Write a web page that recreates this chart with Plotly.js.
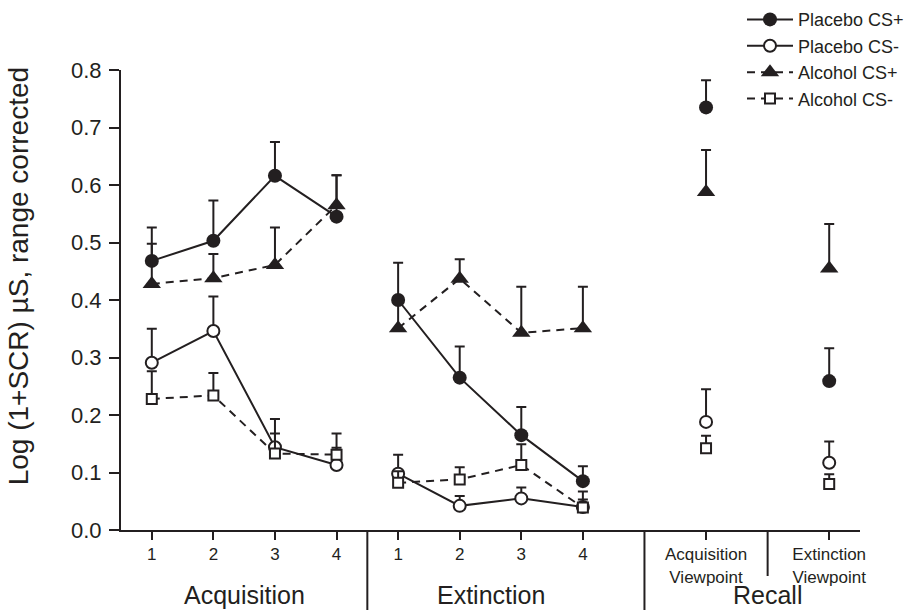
<!DOCTYPE html>
<html>
<head>
<meta charset="utf-8">
<script src="https://cdn.plot.ly/plotly-3.0.1.min.js"></script>
<style>html,body{margin:0;padding:0;background:#fff;}#chart{width:909px;height:610px;}</style>
</head>
<body>
<div id="chart"></div>
<script>
// Category positions on the x axis
const acqX = [1, 2, 3, 4];
const extX = [5, 6, 7, 8];
const recallX = [10, 12];
const tickVals = [1, 2, 3, 4, 5, 6, 7, 8, 10, 12];
const tickText = ['1', '2', '3', '4', '1', '2', '3', '4', 'Acquisition<br>Viewpoint', 'Extinction<br>Viewpoint'];
const sectionNames = ['Acquisition', 'Extinction', 'Recall'];
const sectionCenters = [2.5, 6.5, 11];
const sectionDividers = [4.5, 9];
const recallDivider = 11;

// Series values (means) and upper error (SEM)
const placeboPlusAcq = [0.468, 0.503, 0.616, 0.545];
const placeboPlusExt = [0.400, 0.265, 0.165, 0.085];
const placeboPlusRec = [0.735, 0.259];
const placeboPlusAcqErr = [0.058, 0.070, 0.059, 0.072];
const placeboPlusExtErr = [0.065, 0.054, 0.049, 0.026];
const placeboPlusRecErr = [0.047, 0.057];

const placeboMinusAcq = [0.291, 0.346, 0.144, 0.113];
const placeboMinusExt = [0.098, 0.042, 0.055, 0.040];
const placeboMinusRec = [0.188, 0.117];
const placeboMinusAcqErr = [0.059, 0.060, 0.049, 0.030];
const placeboMinusExtErr = [0.033, 0.017, 0.019, 0.013];
const placeboMinusRecErr = [0.057, 0.037];

const alcoholPlusAcq = [0.428, 0.438, 0.461, 0.565];
const alcoholPlusExt = [0.351, 0.437, 0.343, 0.351];
const alcoholPlusRec = [0.588, 0.455];
const alcoholPlusAcqErr = [0.070, 0.042, 0.065, 0.052];
const alcoholPlusExtErr = [0.050, 0.034, 0.080, 0.072];
const alcoholPlusRecErr = [0.073, 0.077];

const alcoholMinusAcq = [0.228, 0.234, 0.133, 0.131];
const alcoholMinusExt = [0.082, 0.088, 0.113, 0.039];
const alcoholMinusRec = [0.142, 0.080];
const alcoholMinusAcqErr = [0.048, 0.039, 0.035, 0.037];
const alcoholMinusExtErr = [0.020, 0.021, 0.036, 0.028];
const alcoholMinusRecErr = [0.022, 0.017];

const INK = '#231f20';
const FONT = 'Liberation Sans, Arial, Helvetica, sans-serif';

function joinParts(a, e, r) {
  return [...a, null, ...e, null, r[0], null, r[1]];
}
const allX = joinParts(acqX, extX, recallX);

function series(name, acq, ext, rec, acqE, extE, recE, marker, dash) {
  const err = joinParts(acqE, extE, recE).map(v => v === null ? 0 : v);
  return {
    type: 'scatter',
    mode: 'lines+markers',
    name: name,
    x: allX,
    y: joinParts(acq, ext, rec),
    connectgaps: false,
    line: {color: INK, width: 2, dash: dash},
    marker: marker,
    error_y: {
      type: 'data', symmetric: false,
      array: err, arrayminus: err.map(() => 0),
      color: INK, thickness: 2, width: 5
    },
    cliponaxis: false
  };
}

const traces = [
  series('Placebo CS+', placeboPlusAcq, placeboPlusExt, placeboPlusRec,
         placeboPlusAcqErr, placeboPlusExtErr, placeboPlusRecErr,
         {symbol: 'circle', size: 14, color: INK, line: {color: INK, width: 0}}, 'solid'),
  series('Placebo CS-', placeboMinusAcq, placeboMinusExt, placeboMinusRec,
         placeboMinusAcqErr, placeboMinusExtErr, placeboMinusRecErr,
         {symbol: 'circle', size: 12, color: '#ffffff', line: {color: INK, width: 2}}, 'solid'),
  series('Alcohol CS+', alcoholPlusAcq, alcoholPlusExt, alcoholPlusRec,
         alcoholPlusAcqErr, alcoholPlusExtErr, alcoholPlusRecErr,
         {symbol: 'triangle-up', size: 16, color: INK, line: {color: INK, width: 0}}, '8px,6px'),
  series('Alcohol CS-', alcoholMinusAcq, alcoholMinusExt, alcoholMinusRec,
         alcoholMinusAcqErr, alcoholMinusExtErr, alcoholMinusRecErr,
         {symbol: 'square', size: 10, color: '#ffffff', line: {color: INK, width: 2}}, '8px,6px')
];

const shapes = sectionDividers.map(xv => ({
  type: 'line', xref: 'x', yref: 'paper', x0: xv, x1: xv, y0: 0, y1: -0.2,
  line: {color: INK, width: 2}
}));
shapes.push({
  type: 'line', xref: 'x', yref: 'paper', x0: recallDivider, x1: recallDivider, y0: 0, y1: -0.1,
  line: {color: INK, width: 2}
});

const annotations = sectionNames.map((t, i) => ({
  text: t, x: sectionCenters[i], xref: 'x', y: -0.173, yref: 'paper',
  xanchor: 'center', yanchor: 'bottom', showarrow: false, borderpad: 0,
  font: {family: FONT, size: 25, color: INK}
}));
annotations.push({
  text: 'Log (1+SCR) µS, range corrected', textangle: -90,
  x: -0.139, xref: 'paper', y: 0.552, yref: 'paper',
  xanchor: 'center', yanchor: 'middle', showarrow: false,
  font: {family: FONT, size: 28, color: INK}
});

const layout = {
  width: 909, height: 610,
  margin: {l: 121, r: 49, t: 70, b: 80, autoexpand: false},
  paper_bgcolor: '#ffffff', plot_bgcolor: '#ffffff',
  font: {family: FONT, color: INK},
  showlegend: true,
  legend: {
    xref: 'container', yref: 'container',
    x: 1.0, xanchor: 'right', y: 0.998, yanchor: 'top',
    bgcolor: 'rgba(0,0,0,0)', font: {family: FONT, size: 18, color: INK},
    itemwidth: 46
  },
  xaxis: {
    range: [0.5, 12.5], showgrid: false, zeroline: false,
    showline: true, linecolor: INK, linewidth: 2,
    ticks: 'outside', ticklen: 8, tickwidth: 2, tickcolor: INK,
    tickmode: 'array', tickvals: tickVals, ticktext: tickText,
    tickfont: {family: FONT, size: 17, color: INK}
  },
  yaxis: {
    range: [0, 0.8], showgrid: false, zeroline: false,
    showline: true, linecolor: INK, linewidth: 2,
    ticks: 'outside', ticklen: 10, tickwidth: 2, tickcolor: INK,
    dtick: 0.1, tick0: 0, tickformat: '.1f', ticklabelstandoff: 3,
    tickfont: {family: FONT, size: 22, color: INK}
  },
  shapes: shapes,
  annotations: annotations
};

Plotly.newPlot('chart', traces, layout, {displayModeBar: false, staticPlot: true});
</script>
</body>
</html>
